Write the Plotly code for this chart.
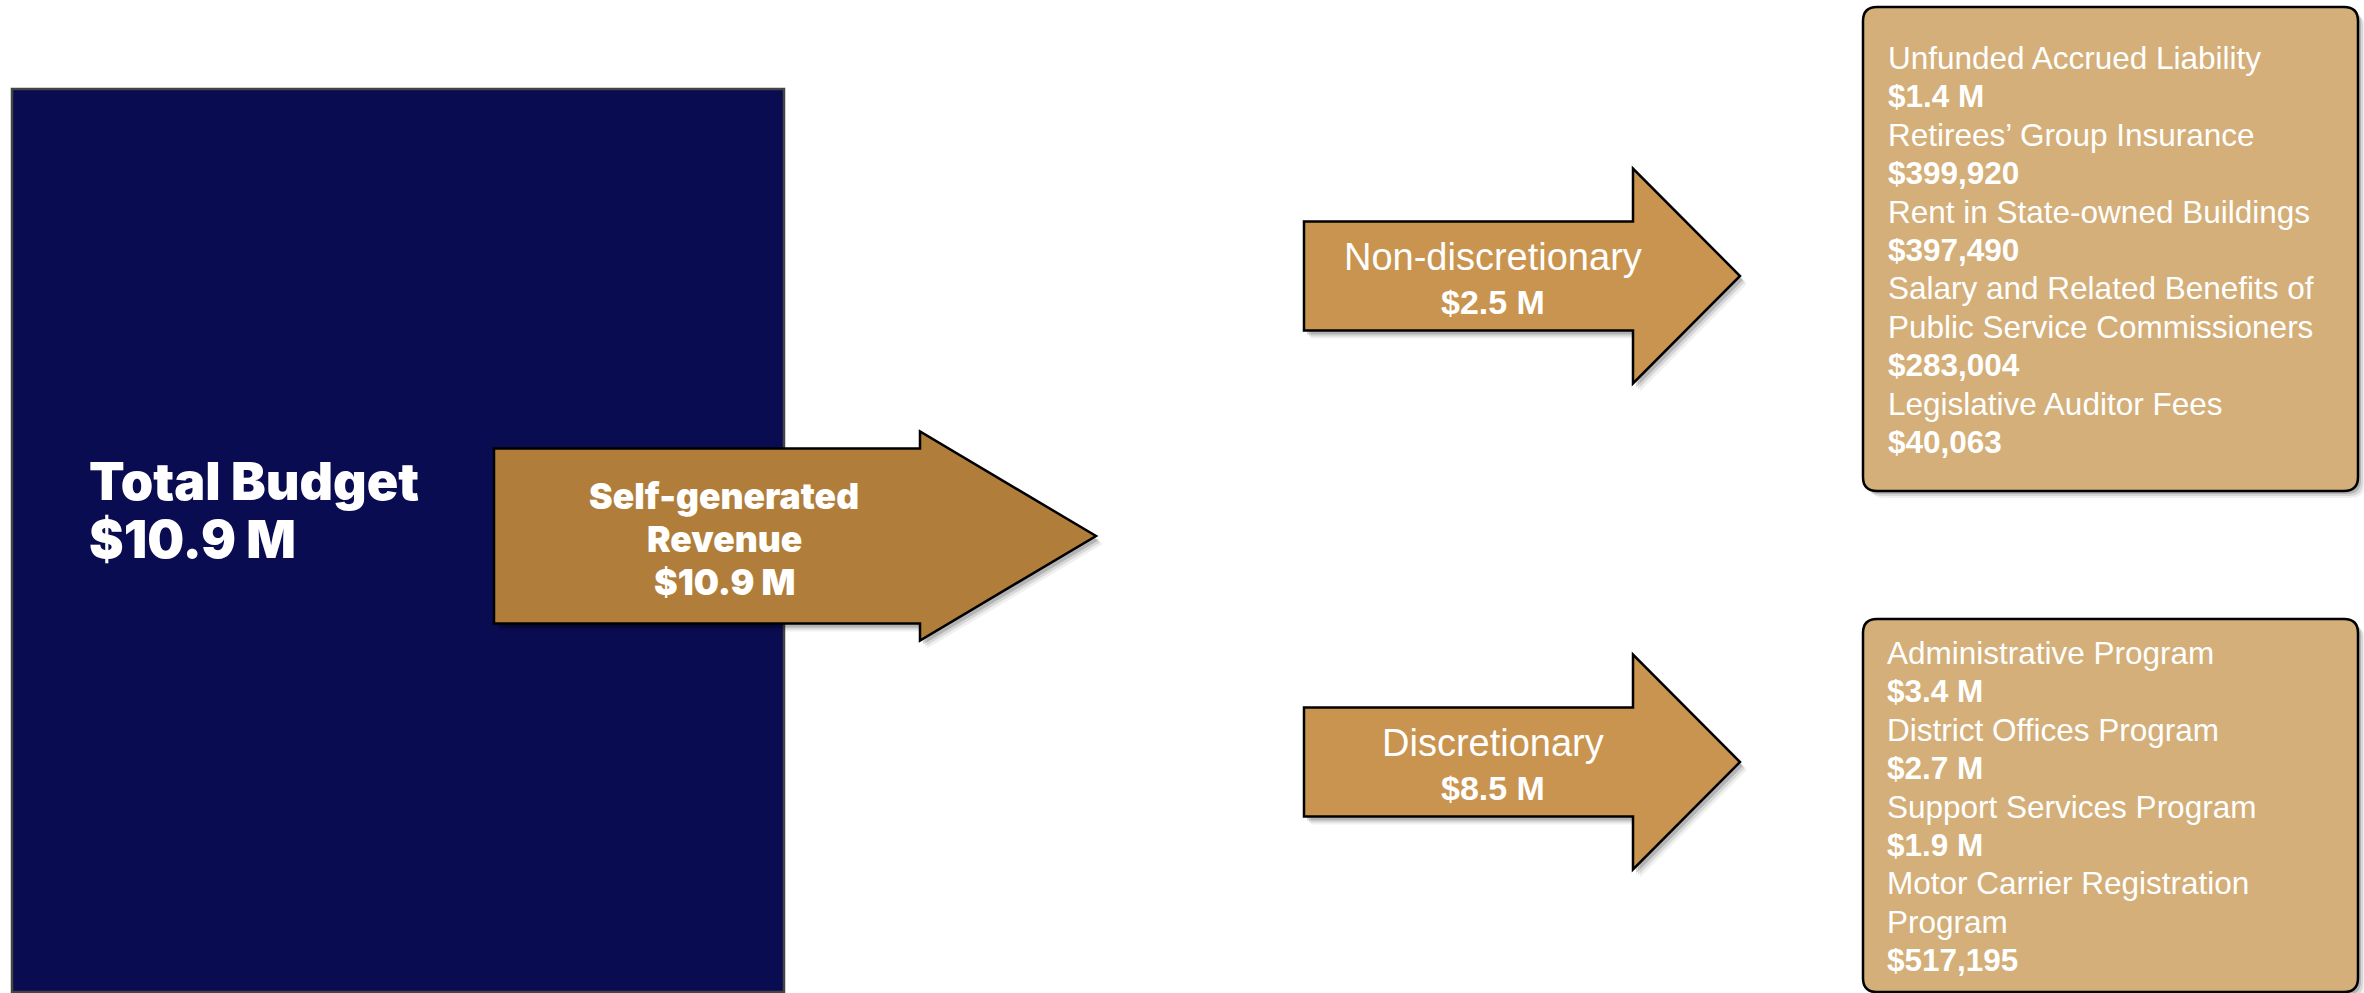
import plotly.graph_objects as go

# ---------------- data (text content) ----------------
total_label = "Total Budget"
total_value = "$10.9 M"
source_label = ["Self-generated", "Revenue"]
source_value = "$10.9 M"
branch_labels = ["Non-discretionary", "Discretionary"]
branch_values = ["$2.5 M", "$8.5 M"]
nondisc_items = ["Unfunded Accrued Liability", "Retirees\u2019 Group Insurance",
                 "Rent in State-owned Buildings",
                 "Salary and Related Benefits of|Public Service Commissioners",
                 "Legislative Auditor Fees"]
nondisc_values = ["$1.4 M", "$399,920", "$397,490", "$283,004", "$40,063"]
disc_items = ["Administrative Program", "District Offices Program",
              "Support Services Program", "Motor Carrier Registration|Program"]
disc_values = ["$3.4 M", "$2.7 M", "$1.9 M", "$517,195"]

# ---------------- layout geometry ----------------
W, H = 2364, 993
NAVY = "#0A0C52"
BIG_ARROW = "#B07E3A"
SMALL_ARROW = "#C9944F"
BOX = "#D4AF79"
FONT = "Liberation Sans"
HEAVY = "Inter"

fig = go.Figure()
shapes = []
annotations = []


def arrow_path(x0, y_mid, shaft_h, x_head, head_h, x_tip, dx=0, dy=0):
    pts = [(x0, y_mid - shaft_h / 2), (x_head, y_mid - shaft_h / 2), (x_head, y_mid - head_h / 2),
           (x_tip, y_mid), (x_head, y_mid + head_h / 2), (x_head, y_mid + shaft_h / 2),
           (x0, y_mid + shaft_h / 2)]
    return "M " + " L ".join(f"{x + dx},{y + dy}" for x, y in pts) + " Z"


def rrect_path(x0, y0, x1, y1, r, dx=0, dy=0):
    x0, x1, y0, y1 = x0 + dx, x1 + dx, y0 + dy, y1 + dy
    return (f"M {x0 + r},{y0} L {x1 - r},{y0} Q {x1},{y0} {x1},{y0 + r} "
            f"L {x1},{y1 - r} Q {x1},{y1} {x1 - r},{y1} L {x0 + r},{y1} "
            f"Q {x0},{y1} {x0},{y1 - r} L {x0},{y0 + r} Q {x0},{y0} {x0 + r},{y0} Z")


def add_arrow(x0, y_mid, shaft_h, x_head, head_h, x_tip, color):
    for k, a in [(7, 0.06), (5, 0.10), (3, 0.16)]:
        shapes.append(dict(type="path", path=arrow_path(x0, y_mid, shaft_h, x_head, head_h, x_tip, k, k + 1),
                           fillcolor=f"rgba(0,0,0,{a})", line=dict(width=0), layer="above"))
    shapes.append(dict(type="path", path=arrow_path(x0, y_mid, shaft_h, x_head, head_h, x_tip),
                       fillcolor=color, line=dict(color="black", width=2.5), layer="above"))


def add_box(x0, y0, x1, y1):
    for k, a in [(7, 0.06), (5, 0.10), (3, 0.16)]:
        shapes.append(dict(type="path", path=rrect_path(x0, y0, x1, y1, 14, k, k),
                           fillcolor=f"rgba(0,0,0,{a})", line=dict(width=0), layer="above"))
    shapes.append(dict(type="path", path=rrect_path(x0, y0, x1, y1, 14),
                       fillcolor=BOX, line=dict(color="black", width=2.5), layer="above"))


def text(x, y, s, size, bold=False, anchor="left", weight=None, family=FONT):
    annotations.append(dict(x=x, y=y, xref="x", yref="y", text=s, showarrow=False,
                            xanchor=anchor, yanchor="middle",
                            font=dict(family=family, size=size, color="white",
                                      weight=weight if weight else ("bold" if bold else "normal"))))


# navy total budget block
shapes.append(dict(type="rect", x0=12, y0=89, x1=784, y1=992, fillcolor=NAVY,
                   line=dict(color="#444444", width=2.5), layer="above"))
text(87, 481, total_label, 52, weight=900, family=HEAVY)
text(87, 539, total_value, 52, weight=900, family=HEAVY)

# big arrow
add_arrow(494, 536, 175, 920, 209, 1096, BIG_ARROW)
for i, s in enumerate(source_label + [source_value]):
    text(724, 496 + i * 43, s, 35.5, weight=900, family=HEAVY, anchor="center")

# branch arrows
branch_mid = [276, 762]
for lab, val, ym in zip(branch_labels, branch_values, branch_mid):
    add_arrow(1304, ym, 109, 1633, 215, 1740, SMALL_ARROW)
    text(1493, ym - 19, lab, 38, anchor="center")
    text(1493, ym + 26, val, 34, bold=True, anchor="center")

# detail boxes
add_box(1863, 7, 2358, 491)
add_box(1863, 619, 2358, 992)


def box_lines(items, values, x, y0, step):
    y = y0
    for it, v in zip(items, values):
        for part in it.split("|"):
            text(x, y, part, 31.5)
            y += step
        text(x, y, v, 31.5, bold=True)
        y += step


box_lines(nondisc_items, nondisc_values, 1886, 58, 38.4)
box_lines(disc_items, disc_values, 1885, 653, 38.4)

fig.update_layout(
    width=W, height=H, margin=dict(l=0, r=0, t=0, b=0),
    paper_bgcolor="white", plot_bgcolor="white",
    xaxis=dict(range=[0, W], visible=False, fixedrange=True),
    yaxis=dict(range=[H, 0], visible=False, fixedrange=True),
    shapes=shapes, annotations=annotations, showlegend=False,
)
fig.write_html("out.html", config={"displayModeBar": False})
